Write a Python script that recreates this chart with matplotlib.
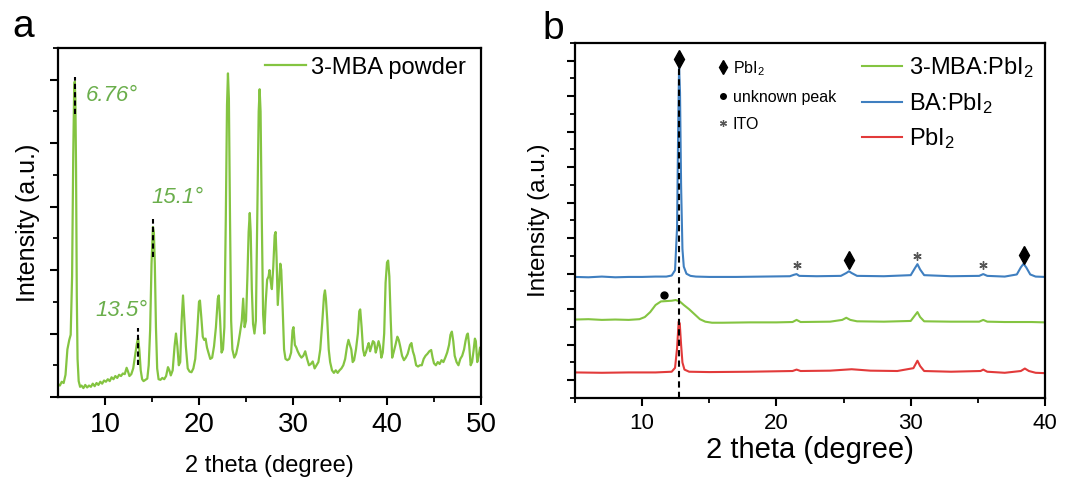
import matplotlib
matplotlib.use("Agg")
import matplotlib.pyplot as plt
from matplotlib.lines import Line2D
from matplotlib.ticker import MultipleLocator, FixedLocator

plt.rcParams['font.family'] = ['Liberation Sans', 'DejaVu Sans']
plt.rcParams['mathtext.default'] = 'regular'

# ---------------- Panel a data: 3-MBA powder ----------------
a_two_theta = [5.0, 5.2, 5.4, 5.6, 5.8, 6.0, 6.2, 6.35, 6.5, 6.62, 6.72, 6.78, 6.85, 6.92, 7.0, 7.08, 7.2,
               7.35, 7.5, 7.7, 7.9, 8.1, 8.3, 8.5, 8.7, 8.9, 9.1, 9.3, 9.5, 9.7, 9.9, 10.1, 10.3, 10.5,
               10.7, 10.9, 11.1, 11.3, 11.5, 11.7, 11.9, 12.1, 12.3, 12.45, 12.6, 12.8, 13.0, 13.2, 13.4,
               13.52, 13.65, 13.8, 13.95, 14.1, 14.3, 14.5, 14.65, 14.8, 14.95, 15.1, 15.2, 15.3, 15.42,
               15.55, 15.7, 15.9, 16.1, 16.3, 16.5, 16.7, 16.85, 17.0, 17.2, 17.4, 17.55, 17.7, 17.85,
               18.0, 18.15, 18.3, 18.45, 18.6, 18.8, 19.0, 19.2, 19.4, 19.6, 19.8, 20.0, 20.1, 20.25,
               20.4, 20.55, 20.7, 20.85, 21.0, 21.2, 21.4, 21.6, 21.8, 22.0, 22.1, 22.25, 22.4, 22.55,
               22.7, 22.85, 22.98, 23.08, 23.18, 23.3, 23.42, 23.55, 23.75, 23.95, 24.15, 24.35, 24.55,
               24.7, 24.85, 25.0, 25.15, 25.28, 25.4, 25.5, 25.62, 25.75, 25.9, 26.05, 26.2, 26.35,
               26.45, 26.55, 26.68, 26.82, 26.95, 27.1, 27.25, 27.4, 27.5, 27.6, 27.75, 27.9, 28.05,
               28.15, 28.25, 28.38, 28.5, 28.65, 28.75, 28.9, 29.05, 29.2, 29.4, 29.6, 29.8, 29.95,
               30.05, 30.2, 30.35, 30.5, 30.7, 30.9, 31.1, 31.3, 31.5, 31.7, 31.9, 32.1, 32.3, 32.5,
               32.7, 32.9, 33.1, 33.3, 33.4, 33.5, 33.65, 33.8, 33.95, 34.15, 34.35, 34.55, 34.75,
               34.95, 35.15, 35.35, 35.55, 35.75, 35.9, 36.05, 36.2, 36.35, 36.5, 36.7, 36.9, 37.05,
               37.15, 37.3, 37.45, 37.6, 37.75, 37.9, 38.05, 38.2, 38.35, 38.5, 38.65, 38.8, 38.95,
               39.1, 39.25, 39.4, 39.55, 39.7, 39.85, 40.0, 40.12, 40.25, 40.4, 40.55, 40.7, 40.9,
               41.1, 41.25, 41.4, 41.6, 41.8, 42.0, 42.2, 42.45, 42.6, 42.75, 42.9, 43.1, 43.3, 43.5,
               43.7, 43.9, 44.1, 44.3, 44.5, 44.7, 44.85, 45.0, 45.2, 45.4, 45.6, 45.8, 46.0, 46.2,
               46.4, 46.6, 46.75, 46.9, 47.05, 47.2, 47.4, 47.6, 47.8, 48.0, 48.2, 48.35, 48.5, 48.6,
               48.75, 48.9, 49.05, 49.2, 49.35, 49.45, 49.6, 49.75, 49.9, 50.0]
a_intensity = [0.20, 0.18, 0.24, 0.22, 0.35, 0.75, 0.90, 0.98, 1.9, 3.8, 4.85, 4.97, 4.7, 3.6, 1.6, 0.6, 0.25,
               0.16, 0.18, 0.14, 0.19, 0.15, 0.18, 0.16, 0.21, 0.17, 0.22, 0.19, 0.24, 0.21, 0.26, 0.24,
               0.28, 0.25, 0.31, 0.28, 0.33, 0.30, 0.35, 0.33, 0.37, 0.36, 0.46, 0.40, 0.33, 0.36, 0.45,
               0.65, 0.85, 0.93, 0.75, 0.42, 0.28, 0.25, 0.27, 0.29, 0.5, 1.05, 2.1, 2.68, 2.6, 2.1, 1.1,
               0.45, 0.28, 0.27, 0.30, 0.28, 0.33, 0.47, 0.42, 0.34, 0.42, 0.8, 1.0, 0.8, 0.5, 0.55, 1.2,
               1.6, 1.2, 0.8, 0.45, 0.40, 0.39, 0.45, 0.6, 1.0, 1.5, 1.52, 1.25, 0.95, 0.9, 0.92, 0.78,
               0.7, 0.6, 0.62, 0.8, 1.1, 1.55, 1.6, 1.2, 0.7, 0.75, 1.1, 2.8, 4.6, 5.1, 4.7, 2.8, 1.2,
               0.75, 0.62, 0.68, 0.82, 1.0, 1.2, 1.55, 1.1, 1.2, 1.9, 2.6, 2.9, 2.6, 1.7, 1.15, 1.0, 1.2,
               2.8, 4.5, 4.85, 4.5, 2.8, 1.3, 1.0, 1.5, 1.85, 1.9, 2.0, 1.85, 1.7, 2.05, 2.55, 2.6, 2.2,
               1.45, 1.75, 2.1, 2.0, 1.4, 0.75, 0.6, 0.58, 0.6, 0.7, 1.05, 1.1, 0.82, 0.78, 0.72, 0.66,
               0.62, 0.65, 0.72, 0.6, 0.5, 0.52, 0.56, 0.45, 0.5, 0.55, 0.75, 1.15, 1.6, 1.68, 1.55, 1.2,
               0.75, 0.55, 0.42, 0.38, 0.42, 0.38, 0.42, 0.45, 0.5, 0.6, 0.8, 0.9, 0.82, 0.75, 0.55,
               0.58, 0.75, 1.0, 1.35, 1.38, 1.1, 0.75, 0.65, 0.7, 0.78, 0.85, 0.72, 0.8, 0.88, 0.86, 0.7,
               0.78, 0.88, 0.8, 0.62, 0.7, 1.0, 1.8, 2.12, 2.15, 1.9, 1.2, 0.62, 0.7, 0.82, 0.95, 0.9,
               0.8, 0.65, 0.58, 0.62, 0.68, 0.82, 0.85, 0.72, 0.65, 0.5, 0.48, 0.5, 0.5, 0.6, 0.65, 0.68,
               0.72, 0.74, 0.62, 0.53, 0.5, 0.55, 0.52, 0.58, 0.55, 0.62, 0.7, 0.82, 0.98, 1.03, 0.88,
               0.65, 0.55, 0.5, 0.6, 0.65, 0.75, 0.88, 0.98, 1.0, 0.8, 0.5, 0.55, 0.72, 0.92, 0.88, 0.55,
               0.65, 0.78, 0.72]
a_label = "3-MBA powder"
a_peak_labels = ["6.76°", "15.1°", "13.5°"]
a_peak_pos = [6.76, 15.15, 13.55]
a_peak_line_lo = [4.46, 2.21, 0.51]
a_peak_line_hi = [5.05, 2.81, 1.08]
a_label_xy = [(8.0, 4.75), (14.95, 3.15), (9.0, 1.36)]

# ---------------- Panel b data ----------------
b_blue_x = [5.0, 6, 7, 8, 9, 10, 11, 11.8, 12.2, 12.45, 12.6, 12.68, 12.75, 12.82, 12.9, 13.0, 13.1, 13.3,
            13.6, 14, 15, 17, 19, 21, 21.3, 21.5, 21.7, 23, 24.8, 25.2, 25.4, 25.6, 26, 28, 30.0, 30.3,
            30.5, 30.7, 31.0, 33, 35.1, 35.4, 35.7, 37, 37.9, 38.2, 38.4, 38.6, 38.9, 39.3, 40]
b_blue_y = [3.41, 3.40, 3.42, 3.40, 3.41, 3.41, 3.42, 3.42, 3.45, 3.6, 4.8, 7.5, 9.34, 8.6, 6.0, 4.2, 3.7, 3.5,
            3.44, 3.42, 3.41, 3.41, 3.42, 3.43, 3.47, 3.49, 3.44, 3.43, 3.44, 3.52, 3.57, 3.52, 3.44, 3.43,
            3.46, 3.65, 3.77, 3.62, 3.46, 3.43, 3.44, 3.49, 3.44, 3.42, 3.48, 3.68, 3.78, 3.68, 3.48, 3.42,
            3.41]
b_green_x = [5.0, 6, 7, 8, 9, 9.8, 10.2, 10.6, 11.0, 11.4, 11.8, 12.2, 12.5, 12.8, 13.1, 13.5, 13.9, 14.3,
             14.7, 15.2, 16, 18, 20, 21.2, 21.5, 21.8, 24, 24.9, 25.2, 25.5, 26, 28, 30.0, 30.3, 30.5, 30.7,
             31.0, 33, 35.1, 35.4, 35.7, 37, 39, 40]
b_green_y = [2.21, 2.22, 2.20, 2.21, 2.20, 2.22, 2.28, 2.42, 2.62, 2.72, 2.73, 2.74, 2.76, 2.72, 2.62, 2.5,
             2.36, 2.22, 2.15, 2.12, 2.12, 2.13, 2.13, 2.14, 2.2, 2.14, 2.15, 2.2, 2.26, 2.2, 2.16, 2.15,
             2.17, 2.32, 2.42, 2.28, 2.16, 2.15, 2.15, 2.2, 2.15, 2.14, 2.14, 2.13]
b_red_x = [5.0, 7, 9, 11, 12.2, 12.45, 12.6, 12.72, 12.8, 12.9, 13.0, 13.15, 13.5, 15, 18, 21.2, 21.5, 21.8,
           24, 25.6, 27, 29, 30.2, 30.5, 30.7, 31.0, 33, 35.2, 35.4, 35.7, 37, 38.2, 38.5, 38.8, 39.3, 40]
b_red_y = [0.72, 0.71, 0.72, 0.72, 0.74, 0.85, 1.4, 2.15, 2.1, 1.5, 1.0, 0.8, 0.74, 0.73, 0.74, 0.76, 0.8,
           0.76, 0.77, 0.81, 0.77, 0.76, 0.84, 1.05, 0.9, 0.76, 0.74, 0.76, 0.8, 0.74, 0.71, 0.76, 0.83,
           0.76, 0.71, 0.70]
b_labels = ["3-MBA:PbI$_2$", "BA:PbI$_2$", "PbI$_2$"]
b_diamond_x = [12.75, 25.4, 38.4]
b_diamond_y = [9.56, 3.88, 4.04]
b_ito_x = [21.5, 30.5, 35.4]
b_ito_y = [3.74, 3.99, 3.74]
b_unknown_x = [11.6]
b_unknown_y = [2.91]
b_ref_line_x = 12.75
b_ref_line_top = 9.3
b_marker_labels = ["PbI$_2$", "unknown peak", "ITO"]

GREEN = '#84C441'
GREEN_TXT = '#6AAE4B'
BLUE = '#3F7FC0'
RED = '#E23A3A'
GREY = '#555555'

fig = plt.figure(figsize=(10.78, 4.84), dpi=100)
axa = fig.add_axes([0.0538, 0.1798, 0.3924, 0.7210])
axb = fig.add_axes([0.5334, 0.1777, 0.4360, 0.7335])

for ax in (axa, axb):
    for s in ax.spines.values():
        s.set_linewidth(1.6)
    ax.tick_params(which='major', direction='out', length=6, width=1.5)
    ax.tick_params(which='minor', direction='out', length=3.5, width=1.3)
    ax.tick_params(axis='y', labelleft=False)

# ---- panel a ----
axa.plot(a_two_theta, a_intensity, color=GREEN, lw=1.6, label=a_label)
axa.set_xlim(5, 50)
axa.set_ylim(0, 5.5)
axa.xaxis.set_major_locator(FixedLocator([10, 20, 30, 40, 50]))
axa.xaxis.set_minor_locator(FixedLocator([15, 25, 35, 45]))
axa.yaxis.set_major_locator(MultipleLocator(1))
axa.yaxis.set_minor_locator(MultipleLocator(0.5))
axa.tick_params(axis='x', labelsize=20, pad=5)
axa.set_xlabel("2 theta (degree)", fontsize=17, labelpad=12)
axa.set_ylabel("Intensity (a.u.)", fontsize=18, labelpad=6)
for pos, lo, hi in zip(a_peak_pos, a_peak_line_lo, a_peak_line_hi):
    axa.plot([pos, pos], [lo, hi], color='black', ls=(0, (2.5, 1.5)), lw=1.5)
for txt, (tx, ty) in zip(a_peak_labels, a_label_xy):
    axa.text(tx, ty, txt, color=GREEN_TXT, fontsize=16, style='italic', va='center', ha='left')
axa.legend(loc='upper left', bbox_to_anchor=(0.489, 0.975), frameon=False, fontsize=17,
           handlelength=1.75, handletextpad=0.2, borderpad=0, borderaxespad=0)

# ---- panel b ----
lg, = axb.plot(b_green_x, b_green_y, color=GREEN, lw=1.5)
lb, = axb.plot(b_blue_x, b_blue_y, color=BLUE, lw=1.5)
lr, = axb.plot(b_red_x, b_red_y, color=RED, lw=1.5)
axb.plot([b_ref_line_x, b_ref_line_x], [0, b_ref_line_top], color='black', ls=(0, (3, 2)), lw=1.5)
axb.plot(b_diamond_x, b_diamond_y, ls='none', marker='d', ms=9, color='black')
axb.plot(b_ito_x, b_ito_y, ls='none', marker=(6, 2, 0), ms=6, mew=1.0, color=GREY)
axb.plot(b_unknown_x, b_unknown_y, ls='none', marker='o', ms=5, color='black')
axb.set_xlim(5, 40)
axb.set_ylim(0, 10)
axb.xaxis.set_major_locator(FixedLocator([10, 20, 30, 40]))
axb.xaxis.set_minor_locator(FixedLocator([5, 15, 25, 35]))
axb.yaxis.set_major_locator(FixedLocator([0.5 + i for i in range(10)]))
axb.yaxis.set_minor_locator(FixedLocator(list(range(0, 11))))
axb.tick_params(axis='x', labelsize=16, pad=5)
axb.set_xlabel("2 theta (degree)", fontsize=21, labelpad=1)
axb.set_ylabel("Intensity (a.u.)", fontsize=17.5, labelpad=11)

leg1 = axb.legend([lg, lb, lr], b_labels, loc='upper left', bbox_to_anchor=(0.611, 0.965),
                  frameon=False, fontsize=17, handlelength=1.7, handletextpad=0.3,
                  labelspacing=0.45, borderpad=0, borderaxespad=0)
axb.add_artist(leg1)
mh = [Line2D([], [], ls='none', marker='d', ms=7, color='black'),
      Line2D([], [], ls='none', marker='o', ms=4, color='black'),
      Line2D([], [], ls='none', marker=(6, 2, 0), ms=5, mew=0.9, color=GREY)]
axb.legend(mh, b_marker_labels, loc='upper left', bbox_to_anchor=(0.305, 0.955), frameon=False,
           fontsize=11.5, handlelength=0.6, handletextpad=0.3, labelspacing=0.75,
           borderpad=0, borderaxespad=0)

fig.text(12 / 1078, 1 - 37 / 484, "a", fontsize=28, ha='left', va='baseline')
fig.text(542 / 1078, 1 - 39 / 484, "b", fontsize=28, ha='left', va='baseline')

fig.savefig("out.png", dpi=100)
